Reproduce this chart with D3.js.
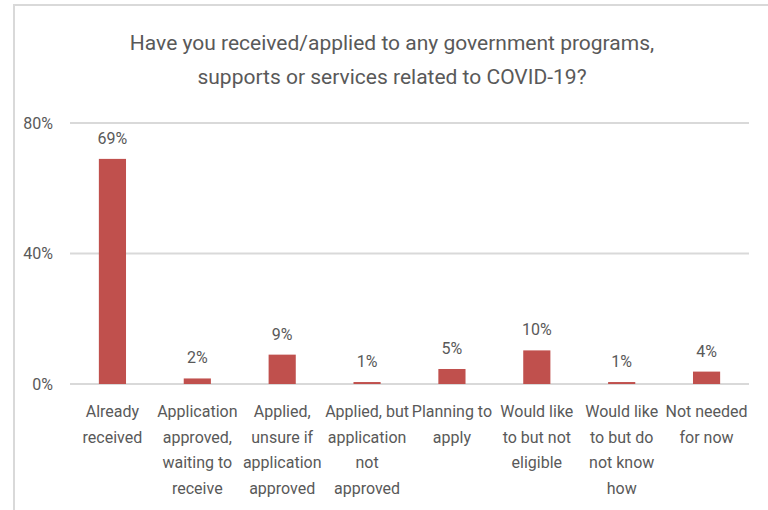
<!DOCTYPE html>
<meta charset="utf-8">
<script src="https://d3js.org/d3.v7.min.js"></script>
<style>
  body { margin: 0; background: #fff; }
  text { font-family: "Liberation Sans Narrow", "Roboto", sans-serif; fill: #595959; }
</style>
<div id="my_dataviz"></div>
<script>

    // chart data
    var categories = [
        ["Already", "received"],
        ["Application", "approved,", "waiting to", "receive"],
        ["Applied,", "unsure if", "application", "approved"],
        ["Applied, but", "application", "not", "approved"],
        ["Planning to", "apply"],
        ["Would like", "to but not", "eligible"],
        ["Would like", "to but do", "not know", "how"],
        ["Not needed", "for now"]
    ];
    var values = [69, 1.7, 9, 0.6, 4.6, 10.3, 0.6, 3.8];
    var yTicks = [0, 40, 80];
    var title = ["Have you received/applied to any government programs,",
                 "supports or services related to COVID-19?"];

    var W = 768, H = 510;
    var margin = {top: 123, right: 19, bottom: 126, left: 70},
        width = W - margin.left - margin.right,
        height = H - margin.top - margin.bottom;

    var root = d3.select("#my_dataviz")
        .append("svg")
            .attr("width", W)
            .attr("height", H);

    // frame lines (top and left)
    root.append("line")
        .attr("x1", 13).attr("x2", W).attr("y1", 5).attr("y2", 5)
        .attr("stroke", "#d9d9d9").attr("stroke-width", 2);
    root.append("line")
        .attr("x1", 14).attr("x2", 14).attr("y1", 5).attr("y2", H)
        .attr("stroke", "#d9d9d9").attr("stroke-width", 2);

    // title
    root.append("g").selectAll("text")
        .data(title)
        .enter()
        .append("text")
        .attr("x", 392)
        .attr("y", function(d, i) { return 50 + i * 34; })
        .attr("text-anchor", "middle")
        .style("font-size", "21px")
        .text(function(d) { return d; });

    var svg = root.append("g")
        .attr("transform", "translate(" + margin.left + "," + margin.top + ")");

    var x = d3.scaleBand()
        .range([0, width])
        .domain(d3.range(categories.length))
        .paddingInner(0.68)
        .paddingOuter(0.34);

    var y = d3.scaleLinear()
        .domain([0, 80])
        .range([height, 0]);

    // gridlines
    svg.append("g")
        .selectAll("line")
        .data(yTicks)
        .enter()
        .append("line")
        .attr("x1", 0).attr("x2", width)
        .attr("y1", function(d) { return y(d); })
        .attr("y2", function(d) { return y(d); })
        .attr("stroke", "#d9d9d9")
        .attr("stroke-width", 2);

    // Y axis labels
    var yAxis = svg.append("g")
        .call(d3.axisLeft(y).tickValues(yTicks).tickSize(0).tickPadding(17)
            .tickFormat(function(d) { return d + "%"; }));
    yAxis.select(".domain").remove();
    yAxis.selectAll("text")
        .style("font-size", "16px")
        .attr("fill", "#595959");

    // Bars
    svg.selectAll("mybar")
        .data(values)
        .enter()
        .append("rect")
        .attr("x", function(d, i) { return x(i); })
        .attr("y", function(d) { return y(d); })
        .attr("width", x.bandwidth())
        .attr("height", function(d) { return height - y(d); })
        .attr("fill", "#c0504d");

    // value labels
    svg.selectAll("vlab")
        .data(values)
        .enter()
        .append("text")
        .attr("x", function(d, i) { return x(i) + x.bandwidth() / 2; })
        .attr("y", function(d) { return y(d) - 15; })
        .attr("text-anchor", "middle")
        .style("font-size", "16px")
        .text(function(d) { return Math.round(d) + "%"; });

    // category labels
    var cat = svg.selectAll("clab")
        .data(categories)
        .enter()
        .append("text")
        .attr("x", function(d, i) { return x(i) + x.bandwidth() / 2; })
        .attr("y", height + 33)
        .attr("text-anchor", "middle")
        .style("font-size", "16px");
    cat.selectAll("tspan")
        .data(function(d, i) { return d.map(function(s) { return {s: s, i: i}; }); })
        .enter()
        .append("tspan")
        .attr("x", function(d) { return x(d.i) + x.bandwidth() / 2; })
        .attr("dy", function(d, j) { return j === 0 ? 0 : 25.5; })
        .text(function(d) { return d.s; });

</script>
